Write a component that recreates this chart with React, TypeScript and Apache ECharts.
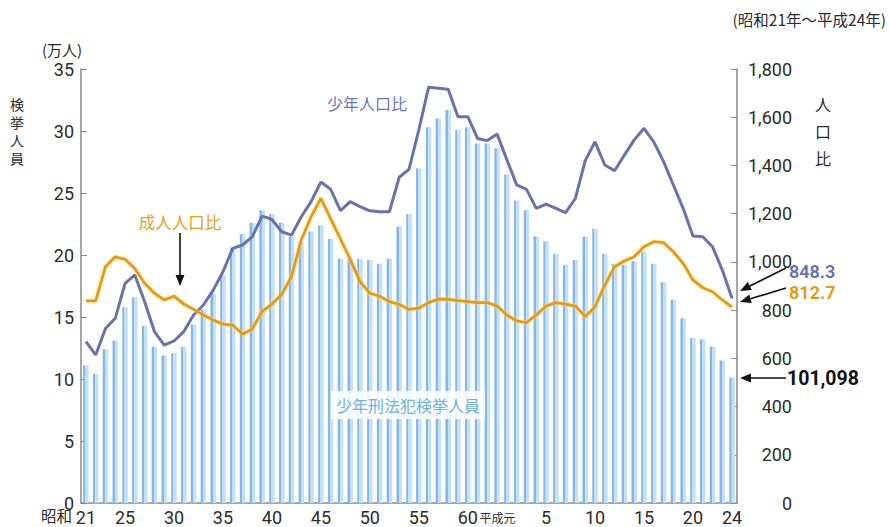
import React, { useEffect, useRef } from "react";
import * as echarts from "echarts";

const FONT = '"Noto Sans CJK JP", "Noto Sans", sans-serif';
const NUM_FONT = 'Roboto, "Noto Sans CJK JP", sans-serif';

// categories: 昭和21 … 昭和63, 平成元, 平成2 … 平成24 (1946–2012)
const showaYears = Array.from({ length: 43 }, (_, i) => `昭和${21 + i}`);
const heiseiYears = ["平成元", ...Array.from({ length: 23 }, (_, i) => `平成${2 + i}`)];
const categories = [...showaYears, ...heiseiYears];

// tick labels shown under the axis
const tickIndex = [0, 4, 9, 14, 19, 24, 29, 34, 39, 43, 47, 52, 57, 62, 66];
const tickLabels = ["21", "25", "30", "35", "40", "45", "50", "55", "60", "平成元", "5", "10", "15", "20", "24"];

// 少年刑法犯検挙人員 (万人)
const juvenileArrests = [
  11.1, 10.4, 12.4, 13.1, 15.8, 16.6, 14.3, 12.6, 11.9, 12.1,
  12.6, 14.4, 15.6, 16.9, 18.4, 20.6, 21.7, 22.6, 23.6, 23.3,
  22.6, 21.5, 21.0, 21.9, 22.4, 21.3, 19.7, 19.7, 19.7, 19.6,
  19.3, 19.7, 22.3, 23.3, 27.0, 30.3, 31.0, 31.7, 30.1, 30.3,
  29.0, 29.0, 28.6, 26.5, 24.4, 23.6, 21.5, 21.1, 20.1, 19.2,
  19.6, 21.5, 22.1, 20.1, 19.3, 19.2, 19.5, 20.3, 19.3, 17.8,
  16.4, 14.9, 13.3, 13.2, 12.6, 11.5, 10.11,
];

// 少年人口比
const juvenileRate = [
  669, 614, 724, 766, 911, 946, 835, 711, 655, 672,
  711, 780, 821, 883, 959, 1056, 1070, 1105, 1190, 1176,
  1125, 1111, 1187, 1250, 1331, 1301, 1213, 1250, 1229, 1212,
  1208, 1208, 1351, 1384, 1547, 1724, 1720, 1716, 1602, 1602,
  1512, 1503, 1530, 1423, 1319, 1301, 1222, 1240, 1222, 1204,
  1264, 1420, 1498, 1402, 1378, 1443, 1506, 1554, 1498, 1416,
  1319, 1222, 1107, 1104, 1063, 966, 848.3,
];

// 成人人口比
const adultRate = [
  838, 838, 980, 1021, 1011, 973, 911, 870, 842, 858,
  825, 803, 780, 759, 742, 738, 700, 722, 795, 825,
  865, 939, 1091, 1187, 1264, 1178, 1095, 1010, 918, 870,
  858, 835, 824, 803, 808, 831, 845, 845, 839, 835,
  831, 831, 817, 780, 755, 748, 780, 817, 831, 825,
  817, 773, 814, 904, 980, 1004, 1021, 1063, 1084, 1080,
  1042, 994, 925, 893, 876, 842, 812.7,
];

const BLUE = "#6a72ae";
const ORANGE = "#e39b12";
const AXIS = "#8a8a8a";
const TEXT = "#2b2b2b";

function arrow(x1: number, y1: number, x2: number, y2: number, head = 11, hw = 4.5) {
  const dx = x2 - x1;
  const dy = y2 - y1;
  const len = Math.sqrt(dx * dx + dy * dy);
  const ux = dx / len;
  const uy = dy / len;
  const bx = x2 - ux * head;
  const by = y2 - uy * head;
  const px = -uy;
  const py = ux;
  return {
    type: "group",
    children: [
      {
        type: "line",
        shape: { x1, y1, x2: bx, y2: by },
        style: { stroke: "#111", lineWidth: 1.6 },
      },
      {
        type: "polygon",
        shape: {
          points: [
            [x2, y2],
            [bx + px * hw, by + py * hw],
            [bx - px * hw, by - py * hw],
          ],
        },
        style: { fill: "#111" },
      },
    ],
  };
}

function txt(text: string, x: number, y: number, opts: any = {}) {
  const align = opts.align || "left";
  const va = opts.verticalAlign || "middle";
  return {
    type: "text",
    x,
    y,
    style: {
      text,
      fill: opts.fill || TEXT,
      fontSize: opts.fontSize || 15,
      fontWeight: opts.fontWeight || "normal",
      fontFamily: opts.fontFamily || FONT,
      align,
      verticalAlign: va,
      textAlign: align,
      textVerticalAlign: va,
      lineHeight: opts.lineHeight,
      backgroundColor: opts.backgroundColor,
      padding: opts.padding,
    },
    z: 100,
  };
}

export default function App() {
  const ref = useRef<HTMLDivElement>(null);

  useEffect(() => {
    if (!ref.current) return;
    const chart = echarts.init(ref.current, null, { renderer: "svg" });

    const barColor = new echarts.graphic.LinearGradient(0, 0, 1, 0, [
      { offset: 0, color: "#86b7e3" },
      { offset: 0.38, color: "#86b7e3" },
      { offset: 0.4, color: "#c2e1f8" },
      { offset: 1, color: "#c2e1f8" },
    ]);

    const option: any = {
      animation: false,
      backgroundColor: "#ffffff",
      textStyle: { fontFamily: FONT },
      grid: { left: 81, right: 152, top: 69, bottom: 24, containLabel: false },
      xAxis: {
        type: "category",
        data: categories,
        boundaryGap: true,
        axisLine: { lineStyle: { color: AXIS, width: 1.5 } },
        axisTick: { show: false },
        axisLabel: {
          interval: 0,
          color: TEXT,
          fontSize: 18,
          lineHeight: 18,
          margin: 5,
          fontFamily: NUM_FONT,
          formatter: (_v: string, i: number) => {
            const k = tickIndex.indexOf(i);
            if (k < 0) return "";
            const t = tickLabels[k];
            if (t === "平成元") return `{h|${t}}`;
            return t;
          },
          rich: {
            h: { fontSize: 12, lineHeight: 16, color: TEXT, fontFamily: FONT, padding: [2, 19, 0, 0] },
          },
        },
      },
      yAxis: [
        {
          type: "value",
          position: "left",
          min: 0,
          max: 35,
          interval: 5,
          axisLine: { show: true, lineStyle: { color: AXIS, width: 1.5 } },
          axisTick: { show: true, inside: true, length: 6, lineStyle: { color: AXIS } },
          splitLine: { show: false },
          axisLabel: { color: TEXT, fontSize: 18, lineHeight: 16, margin: 7, fontFamily: NUM_FONT },
        },
        {
          type: "value",
          position: "right",
          min: 0,
          max: 1800,
          interval: 200,
          axisLine: { show: true, lineStyle: { color: AXIS, width: 1.5 } },
          axisTick: { show: true, inside: true, length: 6, lineStyle: { color: AXIS } },
          splitLine: { show: false },
          axisLabel: {
            color: TEXT,
            fontSize: 18,
            lineHeight: 18,
            margin: 55,
            align: "right",
            fontFamily: NUM_FONT,
            formatter: (v: number) => v.toLocaleString("en-US"),
          },
        },
      ],
      series: [
        {
          name: "少年刑法犯検挙人員",
          type: "bar",
          yAxisIndex: 0,
          data: juvenileArrests,
          barWidth: 5.5,
          itemStyle: { color: barColor },
          z: 2,
        },
        {
          name: "少年人口比",
          type: "line",
          yAxisIndex: 1,
          data: juvenileRate,
          showSymbol: false,
          symbol: "none",
          lineStyle: { color: BLUE, width: 3 },
          z: 3,
        },
        {
          name: "成人人口比",
          type: "line",
          yAxisIndex: 1,
          data: adultRate,
          showSymbol: false,
          symbol: "none",
          lineStyle: {
            color: ORANGE,
            width: 2.8,
            shadowColor: "rgba(255, 214, 110, 0.95)",
            shadowBlur: 3,
          },
          z: 4,
        },
      ],
      graphic: [
        txt("(昭和21年～平成24年)", 886, 19, { align: "right", fontSize: 15.5 }),
        txt("(万人)", 62, 49, { align: "center", fontSize: 15 }),
        txt("昭和", 72, 515, { align: "right", fontSize: 15.5, lineHeight: 16 }),
        txt("検\n挙\n人\n員", 17, 131, { align: "center", fontSize: 14, lineHeight: 18 }),
        txt("人\n口\n比", 823, 131, { align: "center", fontSize: 16, lineHeight: 27 }),
        txt("少年人口比", 367, 103, { align: "center", fontSize: 16, fill: "#6d79b6" }),
        txt("成人人口比", 180, 222, { align: "center", fontSize: 16.5, fill: "#e3a21a" }),
        txt("少年刑法犯検挙人員", 408, 405, {
          align: "center",
          fontSize: 16,
          fill: "#6fb1df",
          backgroundColor: "rgba(255,255,255,0.85)",
          padding: [6, 5, 6, 5],
        }),
        arrow(180, 233, 180, 286),
        arrow(786, 268, 740, 291),
        arrow(786, 288, 740, 302),
        arrow(786, 378, 740, 378),
        txt("848.3", 789, 271, { fontSize: 18, lineHeight: 18, fill: "#6470b4", fontWeight: 600, fontFamily: NUM_FONT }),
        txt("812.7", 789, 292, { fontSize: 18, lineHeight: 18, fill: ORANGE, fontWeight: "bold", fontFamily: NUM_FONT }),
        txt("101,098", 787, 378, { fontSize: 19.5, lineHeight: 20, fill: "#111", fontWeight: "bold", fontFamily: NUM_FONT }),
      ],
    };

    chart.setOption(option);
    return () => chart.dispose();
  }, []);

  return (
    <div
      ref={ref}
      style={{ position: "fixed", left: 0, top: 0, width: 889, height: 527, background: "#fff" }}
    />
  );
}
